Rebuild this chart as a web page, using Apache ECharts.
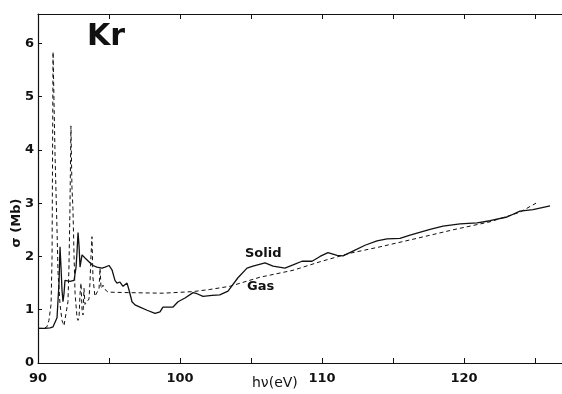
<!DOCTYPE html>
<html>
<head>
<meta charset="utf-8">
<script src="https://cdn.jsdelivr.net/npm/echarts@6/dist/echarts.min.js"></script>
<style>
  html, body { margin: 0; padding: 0; background: #fff; }
  #chart { width: 562px; height: 394px; }
</style>
</head>
<body>
<div id="chart"></div>
<script>
// photon energy (eV) and cross section (Mb)
const solidX = [90.0, 90.49, 90.85, 91.06, 91.34, 91.48, 91.55, 91.62, 91.69, 91.76, 91.83, 91.9, 92.25, 92.54, 92.68, 92.75, 92.82, 92.89, 92.96, 93.03, 93.1, 93.31, 93.66, 93.87, 94.15, 94.51, 94.72, 95.0, 95.21, 95.42, 95.56, 95.77, 95.99, 96.27, 96.41, 96.62, 96.83, 97.18, 97.68, 98.24, 98.59, 98.8, 99.15, 99.51, 99.86, 100.35, 100.92, 101.2, 101.62, 102.25, 102.8, 103.38, 104.08, 104.72, 105.14, 105.99, 106.55, 107.39, 107.96, 108.59, 109.3, 109.86, 110.42, 111.06, 111.48, 112.18, 113.03, 113.87, 114.58, 115.49, 116.2, 117.61, 118.52, 119.72, 120.92, 121.83, 123.03, 123.94, 124.86, 126.06];
const solidY = [0.65, 0.65, 0.66, 0.68, 0.85, 1.5, 2.18, 1.8, 1.37, 1.15, 1.3, 1.55, 1.53, 1.55, 1.8, 2.1, 2.45, 2.2, 1.8, 1.8, 2.03, 1.97, 1.88, 1.83, 1.8, 1.78, 1.8, 1.83, 1.75, 1.55, 1.5, 1.52, 1.44, 1.5, 1.37, 1.15, 1.09, 1.05, 0.99, 0.93, 0.96, 1.05, 1.05, 1.05, 1.15, 1.22, 1.32, 1.3, 1.25, 1.27, 1.28, 1.35, 1.6, 1.78, 1.82, 1.88, 1.82, 1.78, 1.84, 1.91, 1.91, 2.0, 2.07, 2.02, 2.01, 2.1, 2.21, 2.29, 2.33, 2.34, 2.4, 2.51, 2.57, 2.61, 2.63, 2.67, 2.74, 2.85, 2.88, 2.95];

const gasX = [90.0, 90.42, 90.63, 90.77, 90.92, 90.99, 91.06, 91.2, 91.34, 91.41, 91.55, 91.69, 91.83, 91.97, 92.11, 92.18, 92.25, 92.32, 92.39, 92.46, 92.54, 92.61, 92.75, 92.82, 92.89, 92.96, 93.03, 93.1, 93.17, 93.24, 93.31, 93.45, 93.59, 93.66, 93.73, 93.8, 93.87, 94.01, 94.15, 94.3, 94.37, 94.44, 94.58, 94.72, 94.93, 96.48, 98.8, 100.92, 102.1, 103.52, 105.63, 107.96, 109.86, 111.97, 114.08, 116.69, 119.23, 121.83, 123.94, 125.07];
const gasY = [0.65, 0.65, 0.68, 0.8, 1.1, 2.0, 5.84, 3.9, 2.5, 1.7, 1.1, 0.8, 0.7, 0.7, 1.15, 1.8, 2.9, 4.45, 3.3, 2.9, 2.0, 1.3, 0.85, 0.8, 0.85, 1.3, 1.5, 1.0, 0.9, 1.4, 1.1, 1.12, 1.2, 1.5, 2.0, 2.37, 1.6, 1.25, 1.22, 1.4, 1.78, 1.4, 1.46, 1.38, 1.33, 1.32, 1.31, 1.34, 1.38, 1.44, 1.61, 1.74, 1.9, 2.06, 2.18, 2.34, 2.5, 2.65, 2.83, 3.0];

const xLabels = [90, 100, 110, 120];
const yLabels = [0, 1, 2, 3, 4, 5, 6];

const ink = '#111';
const zip = (xs, ys) => xs.map((x, i) => [x, ys[i]]);

const chart = echarts.init(document.getElementById('chart'));
chart.setOption({
    backgroundColor: '#ffffff',
    animation: false,
    grid: { left: 38, right: 0, top: 14, bottom: 31 },
    xAxis: [{
        type: 'value',
        min: 90,
        max: 126.9,
        interval: 5,
        axisLine: { lineStyle: { color: ink, width: 1.2 } },
        axisTick: { inside: true, length: 5, lineStyle: { color: ink } },
        axisLabel: {
            color: ink, fontSize: 13, fontWeight: 'bold', fontFamily: 'DejaVu Sans', margin: 9,
            showMaxLabel: false,
            formatter: v => xLabels.includes(v) ? String(v) : ''
        },
        splitLine: { show: false }
    }, {
        type: 'value',
        position: 'top',
        min: 90,
        max: 126.9,
        interval: 5,
        axisLine: { show: true, lineStyle: { color: ink, width: 1 } },
        axisTick: { inside: true, length: 5, lineStyle: { color: ink } },
        axisLabel: { show: false },
        splitLine: { show: false }
    }],
    yAxis: {
        type: 'value',
        min: 0,
        max: 6.55,
        interval: 1,
        axisLine: { show: true, lineStyle: { color: ink, width: 1.2 } },
        axisTick: { inside: true, length: 4, lineStyle: { color: ink } },
        axisLabel: {
            color: ink, fontSize: 13, fontWeight: 'bold', fontFamily: 'DejaVu Sans', margin: 4,
            showMaxLabel: false,
            formatter: v => yLabels.includes(v) ? String(v) : ''
        },
        splitLine: { show: false }
    },
    series: [{
        name: 'Gas',
        type: 'line',
        data: zip(gasX, gasY),
        showSymbol: false,
        lineStyle: { color: ink, width: 1, type: [4, 3] }
    }, {
        name: 'Solid',
        type: 'line',
        data: zip(solidX, solidY),
        showSymbol: false,
        lineStyle: { color: ink, width: 1.3 }
    }],
    graphic: [
        { type: 'text', left: 87, top: 22, style: { text: 'Kr', fontSize: 30, fontWeight: 'bold', fontFamily: 'DejaVu Sans', fill: ink } },
        { type: 'text', left: 245, top: 247, style: { text: 'Solid', fontSize: 13, fontFamily: 'DejaVu Sans', fontWeight: 'bold', fill: ink } },
        { type: 'text', left: 247, top: 280, style: { text: 'Gas', fontSize: 13, fontFamily: 'DejaVu Sans', fontWeight: 'bold', fill: ink } },
        { type: 'text', left: 252, top: 376, style: { text: 'hν(eV)', fontSize: 14, fontFamily: 'DejaVu Sans', fill: ink } },
        { type: 'text', x: 17, y: 223, rotation: Math.PI / 2, style: { text: 'σ (Mb)', fontSize: 13, fontFamily: 'DejaVu Sans', fontWeight: 'bold', fill: ink, align: 'center', verticalAlign: 'middle' } }
    ]
});
</script>
</body>
</html>
